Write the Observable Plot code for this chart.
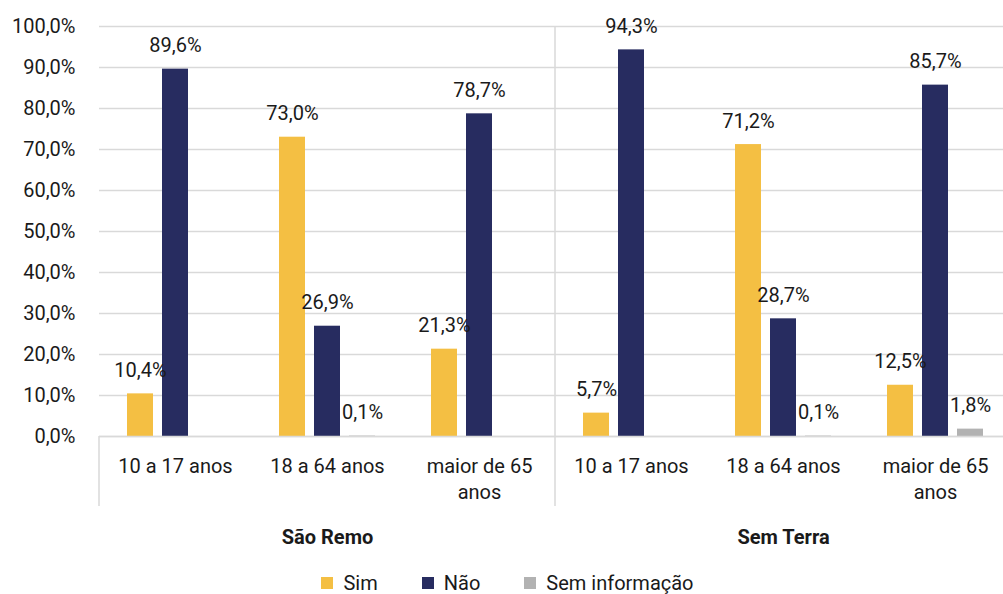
<!DOCTYPE html>
<html>
<head>
<meta charset="utf-8">
<script src="https://cdn.jsdelivr.net/npm/d3@7"></script>
<script src="https://cdn.jsdelivr.net/npm/@observablehq/plot@0.6"></script>
<style>
  html, body { margin: 0; padding: 0; background: #fff; overflow: hidden; }
  body { font-family: Roboto, "Noto Sans", sans-serif; color: #1a1a1a; width: 1003px; }
  #legend { display: flex; justify-content: center; align-items: center; height: 26px; padding-top: 6px; padding-left: 12px; font-size: 20px; }
  #legend .item { display: flex; align-items: center; margin: 0 22px; }
  #legend .sw { width: 12px; height: 12px; margin-right: 10px; }
</style>
</head>
<body>
<div id="chart"></div>
<div id="legend"></div>
<script>
// ---- data ----
const groups = ["São Remo", "Sem Terra"];
const ages = ["10 a 17 anos", "18 a 64 anos", "maior de 65 anos"];
const ageLabels = ["10 a 17 anos", "18 a 64 anos", "maior de 65\nanos"];
const series = ["Sim", "Não", "Sem informação"];
const colors = ["#F4BF43", "#272C60", "#B2B2B2"];
// order: São Remo (3 ages), Sem Terra (3 ages)
const simValues = [10.4, 73.0, 21.3, 5.7, 71.2, 12.5];
const naoValues = [89.6, 26.9, 78.7, 94.3, 28.7, 85.7];
const semInfoValues = [null, 0.1, null, null, 0.1, 1.8];
const yTicks = [0, 10, 20, 30, 40, 50, 60, 70, 80, 90, 100];

// ---- build table ----
const keys = [];
const cats = [];
groups.forEach((g, gi) => ages.forEach((a, ai) => {
  const key = g + "|" + a;
  keys.push(key);
  cats.push({key, label: ageLabels[ai]});
}));
const seriesValues = [simValues, naoValues, semInfoValues];
const data = [];
keys.forEach((key, i) => {
  series.forEach((s, si) => {
    const v = seriesValues[si][i];
    if (v != null) data.push({key, series: s, value: v});
  });
});
const groupLabels = groups.map((g) => ({key: g + "|" + ages[1], label: g}));

const fmt = (d) => d.toFixed(1).replace(".", ",") + "%";

const W = 1003, H = 564, mT = 26, yZero = 436, mL = 97, mR = -9;

const plot = Plot.plot({
  width: W,
  height: H,
  marginTop: mT,
  marginBottom: H - yZero,
  marginLeft: mL,
  marginRight: mR,
  style: {fontFamily: "Roboto, 'Noto Sans', sans-serif", fontSize: "20px", color: "#1a1a1a", background: "#fff"},
  fx: {domain: keys, padding: 0, axis: null},
  x: {domain: series, paddingInner: 0.26, paddingOuter: 0.8, axis: null},
  y: {domain: [0, 100]},
  color: {domain: series, range: colors},
  marks: [
    Plot.gridY(yTicks, {stroke: "#d9d9d9", strokeOpacity: 1, strokeWidth: 1.5}),
    Plot.axisY(yTicks, {tickSize: 0, tickPadding: 24, tickFormat: fmt, fontSize: 20, fill: "#1a1a1a", label: null}),
    Plot.barY(data, {fx: "key", x: "series", y: "value", fill: "series"}),
    Plot.text(data, {fx: "key", x: "series", y: "value", text: (d) => fmt(d.value), lineAnchor: "bottom", dy: -17, fontSize: 20, fill: "#1a1a1a"}),
    Plot.ruleY([0], {stroke: "#d9d9d9", strokeWidth: 1.5}),
    Plot.text(cats, {fx: "key", text: "label", frameAnchor: "bottom", lineAnchor: "top", dy: 18, lineHeight: 1.3, fontSize: 20, fill: "#1a1a1a"}),
    Plot.text(groupLabels, {fx: "key", text: "label", frameAnchor: "bottom", lineAnchor: "top", dy: 93, fontSize: 20, fontWeight: "bold", fill: "#1a1a1a"})
  ]
});

// divider lines of the category axis, positioned from the fx scale
const fx = plot.scale("fx");
const svg = d3.select(plot.tagName === "svg" ? plot : plot.querySelector("svg"));
const x0 = fx.apply(keys[0]);
const xSep = fx.apply(keys[3]);
svg.append("line").attr("x1", x0).attr("x2", x0).attr("y1", yZero).attr("y2", yZero + 70)
  .attr("stroke", "#d9d9d9").attr("stroke-width", 1.5);
svg.append("line").attr("x1", xSep).attr("x2", xSep).attr("y1", mT).attr("y2", yZero + 70)
  .attr("stroke", "#d9d9d9").attr("stroke-width", 1.5);

document.getElementById("chart").appendChild(plot);

// legend
const legend = d3.select("#legend");
series.forEach((s, i) => {
  const it = legend.append("div").attr("class", "item");
  it.append("div").attr("class", "sw").style("background", colors[i]);
  it.append("span").text(s);
});
</script>
</body>
</html>
